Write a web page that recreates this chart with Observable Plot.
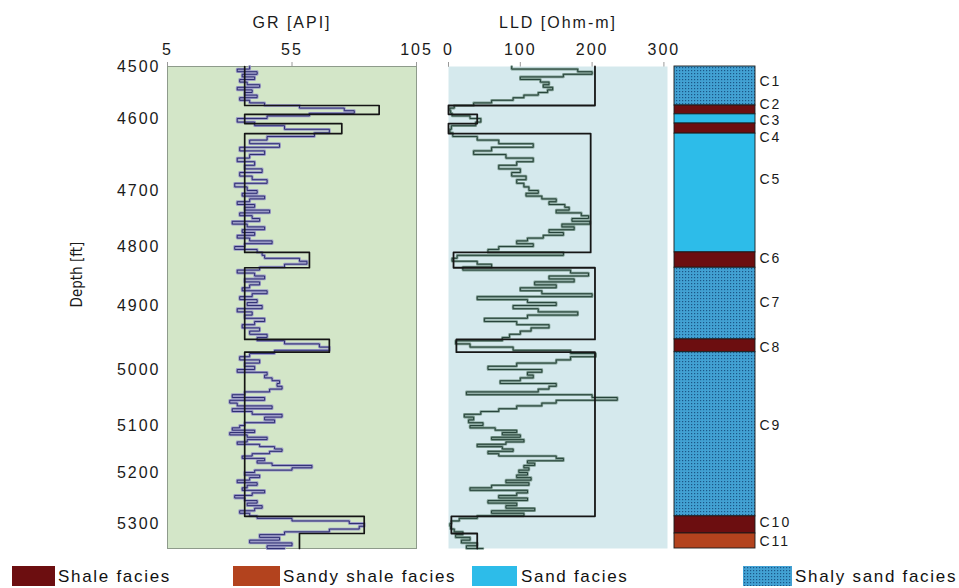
<!DOCTYPE html>
<html><head><meta charset="utf-8">
<script src="https://cdn.jsdelivr.net/npm/d3@7"></script>
<script src="https://cdn.jsdelivr.net/npm/@observablehq/plot@0.6"></script>
<style>
body{margin:0;background:#fff;font-family:"Liberation Sans",Arial,Helvetica,sans-serif;}
#wrap{position:relative;width:959px;height:588px;overflow:hidden;background:#fff;}
#wrap svg.panel{position:absolute;top:0;}
#wrap svg [aria-label="x-axis tick"]{stroke:#9a9a9a;}
.sw{position:absolute;top:566px;}
.lt{position:absolute;top:567px;font-size:17px;letter-spacing:1.7px;line-height:20px;color:#111;white-space:nowrap;}
</style></head><body><div id="wrap"></div>
<script>
// ---------------- data ----------------
const depth = [
4500,4505,4510,4515,4520,4525,4530,4535,4540,4545,
4550,4555,4560,4565,4570,4575,4580,4585,4590,4595,
4600,4605,4610,4615,4620,4625,4630,4635,4640,4645,
4650,4655,4660,4665,4670,4675,4680,4685,4690,4695,
4700,4705,4710,4715,4720,4725,4730,4735,4740,4745,
4750,4755,4760,4765,4770,4775,4780,4785,4790,4795,
4800,4805,4810,4815,4820,4825,4830,4835,4840,4845,
4850,4855,4860,4865,4870,4875,4880,4885,4890,4895,
4900,4905,4910,4915,4920,4925,4930,4935,4940,4945,
4950,4955,4960,4965,4970,4975,4980,4985,4990,4995,
5000,5005,5010,5015,5020,5025,5030,5035,5040,5045,
5050,5055,5060,5065,5070,5075,5080,5085,5090,5095,
5100,5105,5110,5115,5120,5125,5130,5135,5140,5145,
5150,5155,5160,5165,5170,5175,5180,5185,5190,5195,
5200,5205,5210,5215,5220,5225,5230,5235,5240,5245,
5250,5255,5260,5265,5270,5275,5280,5285,5290,5295,
5300,5305,5310,5315,5320,5325,5330,5335,5340,5345];

const grLog = [
38,33,41,35,40,34,37,42,33,39,36,41,34,38,44,
58,76,80,62,
45,33,40,
52,70,64,
45,38,50,34,44,38,33,40,36,43,34,39,45,32,37,41,35,44,38,33,40,36,46,34,39,42,31,37,44,35,40,33,38,47,36,32,41,43,
44,58,61,52,42,
33,40,44,36,42,38,35,45,39,34,41,37,43,33,39,36,44,40,35,42,38,45,41,
52,66,70,48,
38,34,42,36,40,33,45,44,47,50,49,51,46,36,31,44,30,33,47,31,39,51,44,48,36,34,31,40,30,37,
45,37,33,42,48,51,46,39,35,44,41,47,63,55,40,36,42,38,33,41,37,35,44,39,32,36,41,37,43,40,34,38,41,
55,78,84,82,70,52,
42,50,38,55,45,52];

const lldLog = [
88,180,200,160,100,128,140,132,145,138,125,105,90,60,35,
8,2,3,5,
30,45,38,
4,2,6,
40,70,118,60,35,80,118,95,70,100,88,108,95,105,112,125,108,130,150,140,162,168,150,185,195,172,197,158,175,140,160,132,110,95,118,70,55,160,
12,5,40,60,20,
170,195,140,175,120,150,100,130,200,40,110,150,90,125,180,110,50,95,140,115,100,85,75,
10,30,90,170,
205,170,150,95,55,130,110,118,100,72,150,140,125,25,200,235,150,130,95,70,45,22,35,28,48,30,65,95,75,100,
60,105,80,40,75,90,55,70,150,160,110,120,105,112,98,110,95,115,80,112,60,30,110,95,70,110,55,95,80,120,60,105,40,
15,4,2,3,8,20,
10,30,18,40,25,48];

const zoneName   = ["C1","C2","C3","C4","C5","C6","C7","C8","C9","C10","C11"];
const zoneTop    = [4500,4575,4592,4607,4621,4810,4836,4953,4973,5286,5318];
const zoneBase   = [4575,4592,4607,4621,4810,4836,4953,4973,5286,5318,5345];
const zoneFacies = ["Shaly sand","Shale","Sand","Shale","Sand","Shale","Shaly sand","Shale","Shaly sand","Shale","Sandy shale"];
const grBlock    = [36,90,36,75,36,62,36,70,36,84,58];
const lldBlock   = [204,0,40,0,198,7,204,11,204,4,40];

const depthTicks = [4500,4600,4700,4800,4900,5000,5100,5200,5300];
const grTicks = [5,55,105];
const lldTicks = [0,100,200,300];
const faciesOrder = ["Shale","Sandy shale","Sand","Shaly sand"];
const faciesLabels = ["Shale facies","Sandy shale facies","Sand facies","Shaly sand facies"];

// ---------------- styling / layout ----------------
const FONT = '"Liberation Sans", Arial, Helvetica, sans-serif';
const faciesFill = {"Shale":"#6c0e10","Sandy shale":"#b3431e","Sand":"#2dbce9","Shaly sand":"url(#shalySand)"};
const labelNudge = {C1:-4,C2:-5,C3:2.5,C4:9,C5:-20,C6:-2,C7:0,C8:2,C9:-14,C10:-2,C11:1};
const yScale = {type:"linear", domain:[4500,4600,4700,4800,4900,5000,5100,5200,5300,5345],
                range:[66,118,190,246,305,369,425,472,523,548]};
const yPix = d3.scaleLinear(yScale.domain, yScale.range);
const H = 556, MT = 66, MB = 8;
const baseStyle = {fontFamily:FONT, fontSize:"16px", letterSpacing:"2px", color:"#1a1a1a", background:"transparent", overflow:"visible"};

const curveRows = depth.map((d,i) => ({d, gr: grLog[i], lld: lldLog[i]}));
const blockRows = zoneName.flatMap((n,i) => [
  {d: zoneTop[i], gr: grBlock[i], lld: lldBlock[i]},
  {d: zoneBase[i], gr: grBlock[i], lld: lldBlock[i]}]);
const zoneRows = zoneName.map((n,i) => {
  const mid = (zoneTop[i] + zoneBase[i]) / 2;
  return {name:n, top:zoneTop[i], base:zoneBase[i], facies:zoneFacies[i],
          labelD: yPix.invert(yPix(mid) + labelNudge[n])};
});

const wrap = document.getElementById("wrap");
function place(svg, left){ svg.classList.add("panel"); svg.style.left = left + "px"; wrap.appendChild(svg); }

// ---------------- GR track ----------------
const grPlot = Plot.plot({
  width:430, height:H, marginLeft:167, marginRight:14, marginTop:MT, marginBottom:MB,
  style: baseStyle,
  x:{domain:[5,105], axis:"top", ticks:grTicks, tickSize:5, tickPadding:7, label:null},
  y:{...yScale, ticks:depthTicks, tickSize:0, tickPadding:7, tickFormat:"d", label:null},
  marks:[
    Plot.frame({fill:"#d3e6c8", stroke:"#8e9b8b"}),
    Plot.line(curveRows, {x:"gr", y:"d", curve:"step-before", stroke:"#9c9cc6", strokeWidth:2.8}),
    Plot.line(curveRows, {x:"gr", y:"d", curve:"step-before", stroke:"#23236a", strokeWidth:0.9}),
    Plot.line(blockRows, {x:"gr", y:"d", stroke:"#141414", strokeWidth:1.7}),
    Plot.text(["GR [API]"], {text:d=>d, frameAnchor:"top", dy:-50}),
    Plot.text(["Depth [ft]"], {text:d=>d, frameAnchor:"left", dx:-90, rotate:-90, fontSize:15})
  ]
});
place(grPlot, 0);

// ---------------- LLD track ----------------
const lldPlot = Plot.plot({
  width:260, height:H, marginLeft:28, marginRight:13, marginTop:MT, marginBottom:MB,
  style: baseStyle,
  x:{domain:[0,305], axis:"top", ticks:lldTicks, tickSize:5, tickPadding:7, label:null},
  y:{...yScale, axis:null},
  marks:[
    Plot.frame({fill:"#d5e9ed"}),
    Plot.line(curveRows, {x:"lld", y:"d", curve:"step-before", stroke:"#7f9d92", strokeWidth:2.6}),
    Plot.line(curveRows, {x:"lld", y:"d", curve:"step-before", stroke:"#1d3a31", strokeWidth:0.9}),
    Plot.line(blockRows, {x:"lld", y:"d", stroke:"#161616", strokeWidth:1.8}),
    Plot.text(["LLD [Ohm-m]"], {text:d=>d, frameAnchor:"top", dy:-50})
  ]
});
place(lldPlot, 420);

// ---------------- Facies column ----------------
const facPlot = Plot.plot({
  width:140, height:H, marginLeft:14, marginRight:45, marginTop:MT, marginBottom:MB,
  style: baseStyle,
  x:{domain:[0,1], axis:null},
  y:{...yScale, axis:null},
  color:{type:"identity"},
  marks:[
    Plot.rect(zoneRows, {x1:d=>0, x2:d=>1, y1:"top", y2:"base", fill:d=>faciesFill[d.facies], stroke:"#1b1b1b", strokeWidth:0.9}),
    Plot.text(zoneRows, {x:d=>1, y:"labelD", text:"name", textAnchor:"start", dx:4, fontSize:14})
  ]
});
place(facPlot, 660);

// pattern for shaly sand
const defs = d3.select(facPlot).insert("defs", ":first-child");
const pat = defs.append("pattern").attr("id","shalySand").attr("width",3).attr("height",3).attr("patternUnits","userSpaceOnUse");
pat.append("rect").attr("width",3).attr("height",3).attr("fill","#42a1d3");
pat.append("rect").attr("x",1).attr("y",1).attr("width",1.2).attr("height",1.2).attr("fill","#1b5687");

// depth label: condensed, no letter spacing
d3.select(grPlot).selectAll("text").filter(function(){ return this.textContent === "Depth [ft]"; })
  .style("letter-spacing","0px").style("font-family",'"DejaVu Sans Condensed","Liberation Sans Narrow",sans-serif')
  .style("font-stretch","condensed");

// ---------------- legend ----------------
const legX = [{sw:12, w:43, t:58},{sw:233, w:47, t:283},{sw:472, w:45, t:521},{sw:743, w:49, t:795}];
faciesOrder.forEach((f,i) => {
  const s = d3.select(wrap).append("svg").attr("class","sw")
    .attr("width",legX[i].w).attr("height",20).style("left",legX[i].sw+"px");
  s.append("rect").attr("width",legX[i].w).attr("height",20).attr("fill",faciesFill[f]);
  d3.select(wrap).append("div").attr("class","lt").style("left",legX[i].t+"px").text(faciesLabels[i]);
});
</script></body></html>
